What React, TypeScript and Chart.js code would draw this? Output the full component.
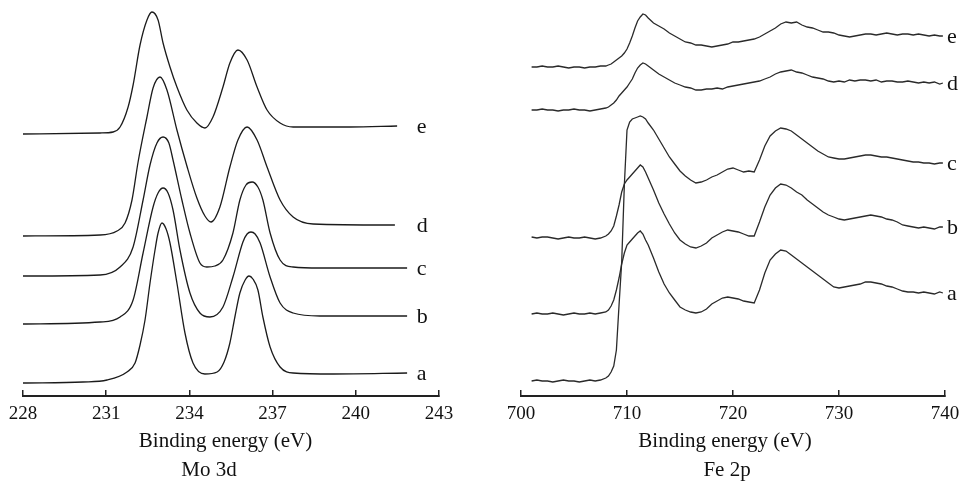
import React, { useEffect, useRef } from "react";
import { Chart, registerables } from "chart.js";

Chart.register(...registerables);

// ---------------- Mo 3d (binding energy in eV, intensity in a.u., curves stacked) ----------------
const MO_A_X = [228.0, 230.16, 231.03, 231.75, 232.04, 232.22, 232.4, 232.58, 232.76, 232.87, 233.01, 233.16, 233.3, 233.55, 233.84, 234.13, 234.56, 235.0, 235.25, 235.46, 235.64, 235.82, 236.01, 236.15, 236.29, 236.47, 236.65, 236.91, 237.27, 237.74, 239.18, 241.85];
const MO_A_Y = [13, 14, 16, 24, 33, 51, 76, 113, 146, 163, 173, 167, 153, 113, 63, 33, 22, 24, 34, 53, 79, 103, 116, 120, 117, 106, 79, 49, 29, 23, 22, 23];

const MO_B_X = [228.0, 230.78, 231.5, 231.97, 232.33, 232.69, 232.87, 233.05, 233.23, 233.41, 233.66, 234.02, 234.38, 234.74, 235.21, 235.57, 235.93, 236.08, 236.22, 236.37, 236.55, 236.91, 237.27, 237.74, 238.71, 241.85];
const MO_B_Y = [72, 74, 79, 96, 143, 189, 203, 208, 203, 186, 146, 103, 83, 79, 89, 119, 154, 162, 164, 162, 153, 119, 93, 83, 80, 80];

const MO_C_X = [228.0, 230.78, 231.5, 231.97, 232.33, 232.58, 232.83, 233.05, 233.26, 233.41, 233.73, 234.02, 234.38, 234.63, 234.92, 235.21, 235.57, 235.82, 236.04, 236.26, 236.47, 236.65, 236.91, 237.27, 237.74, 238.71, 241.85];
const MO_C_Y = [120, 121, 129, 149, 196, 231, 253, 259, 253, 236, 196, 163, 133, 129, 130, 136, 163, 196, 211, 214, 209, 196, 163, 136, 129, 128, 128];

const MO_D_X = [228.0, 230.78, 231.39, 231.68, 231.93, 232.15, 232.47, 232.69, 232.94, 233.19, 233.55, 233.91, 234.27, 234.56, 234.78, 235.1, 235.46, 235.75, 236.08, 236.44, 236.8, 237.27, 237.74, 238.46, 241.41];
const MO_D_Y = [160, 161, 165, 173, 196, 234, 279, 308, 319, 306, 266, 230, 198, 180, 174, 189, 229, 256, 269, 256, 229, 196, 179, 172, 171];

const MO_E_X = [228.0, 230.78, 231.25, 231.5, 231.79, 231.97, 232.22, 232.47, 232.65, 232.87, 233.05, 233.3, 233.55, 233.91, 234.27, 234.56, 234.85, 235.21, 235.46, 235.75, 236.08, 236.44, 236.8, 237.27, 237.74, 239.79, 241.49];
const MO_E_Y = [262, 263, 264, 269, 289, 311, 351, 376, 384, 376, 353, 329, 309, 286, 273, 268, 279, 309, 333, 346, 336, 309, 286, 273, 269, 269, 270];

// ---------------- Fe 2p (shared energy grid) ----------------
const FE_ENERGY = [
  701, 701.5, 702, 702.5, 703, 703.5, 704, 704.5, 705, 705.5, 706, 706.5, 707, 707.5, 708,
  708.25, 708.5, 708.75, 709, 709.25, 709.5, 709.75, 710, 710.25, 710.5, 710.75, 711, 711.25, 711.5, 711.75, 712,
  712.5, 713, 713.5, 714, 714.5, 715, 715.5, 716, 716.5, 717, 717.5, 718, 718.5, 719, 719.5, 720, 720.5, 721, 721.5,
  722, 722.5, 723, 723.5, 724, 724.5, 725, 725.5, 726, 726.5, 727, 727.5, 728, 728.5, 729, 729.5, 730, 730.5, 731,
  731.5, 732, 732.5, 733, 733.5, 734, 734.5, 735, 735.5, 736, 736.5, 737, 737.5, 738, 738.5, 739, 739.5, 739.8,
];

const FE_A = [
  82, 83, 82, 82, 83, 82, 81, 82, 83, 82, 82, 83, 82, 83, 84,
  86, 90, 96, 106, 118, 132, 143, 151, 154, 157, 160, 163, 165, 162, 156, 151,
  138, 124, 112, 103, 96, 89, 86, 84, 83, 84, 87, 92, 95, 98, 99, 98, 97, 95, 94,
  93, 106, 123, 136, 142, 146, 145, 141, 137, 133, 129, 125, 121, 117, 113, 109, 108, 109, 110,
  111, 112, 114, 114, 113, 112, 110, 109, 107, 105, 104, 104, 103, 104, 103, 102, 104, 103,
];

const FE_B = [
  159, 158, 159, 159, 158, 157, 158, 159, 158, 158, 159, 158, 157, 158, 160,
  162, 165, 170, 180, 191, 204, 212, 216, 219, 222, 225, 228, 231, 229, 224, 218,
  206, 193, 182, 172, 163, 156, 152, 149, 148, 150, 153, 158, 161, 164, 166, 165, 164, 162, 160,
  160, 174, 189, 201, 208, 212, 211, 208, 204, 201, 196, 192, 188, 184, 181, 179, 177, 176, 177,
  178, 179, 180, 181, 180, 179, 177, 176, 174, 171, 170, 169, 168, 169, 168, 167, 169, 169,
];

const FE_C = [
  15, 16, 15, 15, 14, 15, 16, 15, 15, 14, 15, 16, 15, 16, 18,
  20, 24, 30, 46, 91, 134, 211, 266, 274, 277, 278, 279, 280, 279, 277, 273,
  266, 257, 248, 239, 232, 225, 220, 216, 213, 214, 216, 219, 221, 224, 227, 228, 226, 224, 225,
  224, 236, 250, 260, 265, 268, 267, 265, 261, 257, 253, 249, 245, 242, 239, 238, 237, 237, 238,
  239, 240, 241, 241, 240, 239, 239, 238, 237, 236, 235, 234, 234, 233, 233, 232, 233, 233,
];

const FE_D = [
  286, 286, 287, 286, 286, 285, 286, 286, 287, 286, 286, 285, 286, 287, 288,
  289, 291, 293, 296, 300, 303, 306, 309, 313, 317, 323, 328, 331, 333, 332, 330,
  326, 322, 319, 316, 313, 311, 309, 308, 306, 306, 307, 307, 308, 307, 309, 310, 311, 312, 313,
  314, 315, 317, 319, 322, 324, 325, 326, 324, 323, 321, 319, 318, 317, 315, 314, 315, 314, 316,
  315, 316, 316, 315, 316, 314, 315, 315, 314, 314, 315, 314, 313, 314, 313, 314, 312, 313,
];

const FE_E = [
  329, 329, 330, 329, 329, 330, 329, 328, 329, 329, 328, 329, 329, 330, 330,
  331, 332, 334, 336, 338, 340, 343, 347, 353, 360, 368, 375, 379, 382, 381, 378,
  373, 370, 367, 363, 360, 357, 354, 353, 351, 351, 350, 349, 350, 351, 352, 354, 354, 355, 356,
  357, 359, 362, 365, 368, 372, 374, 373, 374, 371, 369, 368, 366, 364, 364, 363, 361, 360, 359,
  360, 361, 362, 362, 361, 362, 363, 362, 361, 362, 362, 361, 362, 361, 360, 361, 360, 360,
];

const CURVE_NAMES = ["a", "b", "c", "d", "e"];

const MO_AXIS = { min: 228, max: 243, step: 3 };
const FE_AXIS = { min: 700, max: 740, step: 10 };
const MO_LABEL_X = 242.2;
const FE_LABEL_X = 740.2;
const Y_RANGE = { min: 0, max: 396 };

const SERIF = '"Liberation Serif", "Times New Roman", Times, serif';
const INK = "#1b1b1b";

type Curve = { label: string; x: number[]; y: number[] };

const MO_CURVES: Curve[] = [
  { label: CURVE_NAMES[0], x: MO_A_X, y: MO_A_Y },
  { label: CURVE_NAMES[1], x: MO_B_X, y: MO_B_Y },
  { label: CURVE_NAMES[2], x: MO_C_X, y: MO_C_Y },
  { label: CURVE_NAMES[3], x: MO_D_X, y: MO_D_Y },
  { label: CURVE_NAMES[4], x: MO_E_X, y: MO_E_Y },
];

const FE_CURVES: Curve[] = [
  { label: CURVE_NAMES[0], x: FE_ENERGY, y: FE_A },
  { label: CURVE_NAMES[1], x: FE_ENERGY, y: FE_B },
  { label: CURVE_NAMES[2], x: FE_ENERGY, y: FE_C },
  { label: CURVE_NAMES[3], x: FE_ENERGY, y: FE_D },
  { label: CURVE_NAMES[4], x: FE_ENERGY, y: FE_E },
];

const curveLabels = {
  id: "curveLabels",
  afterDatasetsDraw(chart: any, _args: any, opts: any) {
    const { ctx } = chart;
    const xs = chart.scales.x;
    const ys = chart.scales.y;
    ctx.save();
    ctx.font = `${opts.size}px ${SERIF}`;
    ctx.fillStyle = "#111";
    ctx.textAlign = "left";
    ctx.textBaseline = "middle";
    chart.data.datasets.forEach((ds: any) => {
      const last = ds.data[ds.data.length - 1];
      ctx.fillText(ds.label, xs.getPixelForValue(opts.xValue), ys.getPixelForValue(last.y) + 1);
    });
    ctx.restore();
  },
};

type PanelProps = {
  left: number;
  width: number;
  height: number;
  curves: Curve[];
  axis: { min: number; max: number; step: number };
  padLeft: number;
  padRight: number;
  labelX: number;
  smooth: boolean;
  lineColor: string;
};

function SpectrumPanel(p: PanelProps) {
  const ref = useRef<HTMLCanvasElement>(null);
  useEffect(() => {
    if (!ref.current) return;
    const chart = new Chart(ref.current, {
      type: "line",
      data: {
        datasets: p.curves.map((c) => ({
          label: c.label,
          data: c.x.map((xv, i) => ({ x: xv, y: c.y[i] })),
          borderColor: p.lineColor,
          borderWidth: 1.3,
          pointRadius: 0,
          fill: false,
          tension: 0,
          cubicInterpolationMode: p.smooth ? "monotone" : "default",
        })),
      },
      options: {
        responsive: false,
        animation: false,
        events: [],
        layout: { padding: { left: p.padLeft, right: p.padRight, top: 0, bottom: 52 } },
        scales: {
          x: {
            type: "linear",
            min: p.axis.min,
            max: p.axis.max,
            ticks: {
              stepSize: p.axis.step,
              padding: 0,
              color: "#111",
              font: { family: SERIF, size: 19, lineHeight: 48 / 19 },
              maxRotation: 0,
              autoSkip: false,
            },
            grid: { drawOnChartArea: false, tickLength: -6, color: "#222", lineWidth: 1.5 },
            border: { display: true, color: "#222", width: 2 },
          },
          y: { display: false, min: Y_RANGE.min, max: Y_RANGE.max },
        },
        plugins: {
          legend: { display: false },
          tooltip: { enabled: false },
          curveLabels: { xValue: p.labelX, size: 22 },
        } as any,
      },
      plugins: [curveLabels as any],
    });
    return () => chart.destroy();
  }, []);
  return (
    <canvas
      ref={ref}
      width={p.width}
      height={p.height}
      style={{ position: "absolute", left: p.left, top: 0, width: p.width, height: p.height, display: "block" }}
    />
  );
}

function TitleLine({ text, center, baseline }: { text: string; center: number; baseline: number }) {
  return (
    <div
      style={{
        position: "absolute",
        left: center - 150,
        width: 300,
        top: baseline - 17.6,
        textAlign: "center",
        fontFamily: SERIF,
        fontSize: 21,
        lineHeight: "21px",
        color: "#111",
        whiteSpace: "nowrap",
      }}
    >
      {text}
    </div>
  );
}

export default function App() {
  return (
    <div
      style={{
        position: "fixed",
        left: 0,
        top: 0,
        width: 963,
        height: 490,
        overflow: "hidden",
        background: "#fff",
      }}
    >
      <SpectrumPanel
        left={0}
        width={480}
        height={490}
        curves={MO_CURVES}
        axis={MO_AXIS}
        padLeft={23}
        padRight={41}
        labelX={MO_LABEL_X}
        smooth={true}
        lineColor={INK}
      />
      <SpectrumPanel
        left={480}
        width={483}
        height={490}
        curves={FE_CURVES}
        axis={FE_AXIS}
        padLeft={41}
        padRight={18}
        labelX={FE_LABEL_X}
        smooth={false}
        lineColor="#2a2a2a"
      />
      <TitleLine text="Binding energy (eV)" center={225.5} baseline={448} />
      <TitleLine text="Mo 3d" center={209} baseline={477} />
      <TitleLine text="Binding energy (eV)" center={725} baseline={448} />
      <TitleLine text="Fe 2p" center={727} baseline={477} />
    </div>
  );
}
